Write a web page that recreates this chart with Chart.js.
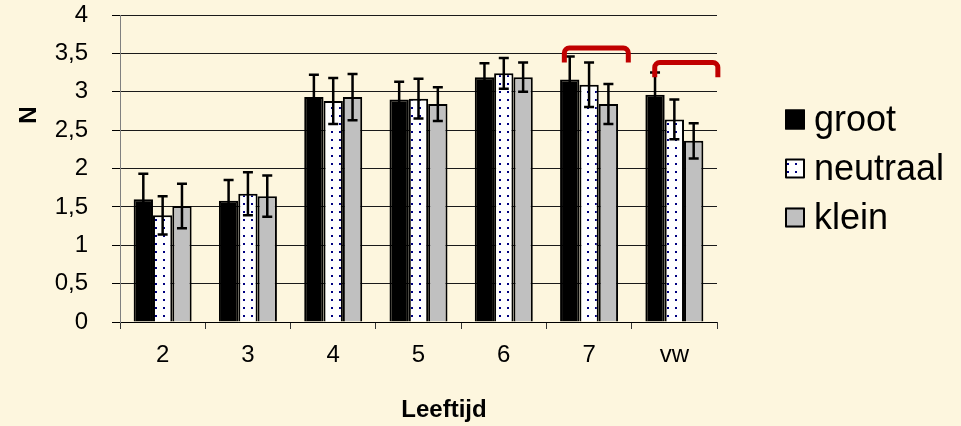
<!DOCTYPE html>
<html><head><meta charset="utf-8">
<script src="https://cdn.jsdelivr.net/npm/chart.js@4.4.1/dist/chart.umd.min.js"></script>
<style>html,body{margin:0;padding:0;background:#FDF6DE;overflow:hidden}#wrap{width:961px;height:426px;position:relative}</style>
</head><body><div id="wrap"><canvas id="c" width="961" height="426"></canvas></div>
<script>
const categories = ['2', '3', '4', '5', '6', '7', 'vw'];
const seriesNames = ['groot', 'neutraal', 'klein'];
const groot = [1.60, 1.58, 2.93, 2.90, 3.19, 3.16, 2.96];
const grootErr = [0.33, 0.27, 0.29, 0.23, 0.18, 0.30, 0.29];
const neutraal = [1.39, 1.67, 2.88, 2.91, 3.24, 3.09, 2.64];
const neutraalErr = [0.25, 0.28, 0.30, 0.26, 0.20, 0.29, 0.26];
const klein = [1.51, 1.64, 2.93, 2.84, 3.19, 2.84, 2.36];
const kleinErr = [0.29, 0.27, 0.30, 0.22, 0.19, 0.26, 0.23];
const yTickValues = [0, 0.5, 1, 1.5, 2, 2.5, 3, 3.5, 4];
const yTitle = 'N';
const xTitle = 'Leeftijd';
// significance brackets, in data units (category + offset in category widths, y values)
const bracketCategories = ['7', 'vw'];
const bracketFrom = [-0.29, -0.23];
const bracketTo = [0.46, 0.51];
const bracketTop = [3.57, 3.38];
const bracketLeg = [3.38, 3.19];

const FONT = "'Liberation Sans', Arial, sans-serif";
Chart.defaults.font.family = FONT;
Chart.defaults.color = '#000';

const canvas = document.getElementById('c');
const ctx0 = canvas.getContext('2d');
const tile = document.createElement('canvas');
tile.width = 8; tile.height = 8;
const tctx = tile.getContext('2d');
tctx.fillStyle = '#ffffff'; tctx.fillRect(0, 0, 8, 8);
tctx.fillStyle = '#000080'; tctx.fillRect(3, 3, 2, 2);
const dotPattern = ctx0.createPattern(tile, 'repeat');

const errs = [grootErr, neutraalErr, kleinErr];

const bgPlugin = {
  id: 'bg',
  beforeDraw(chart) {
    const c = chart.ctx;
    c.save(); c.fillStyle = '#FDF6DE'; c.fillRect(0, 0, chart.width, chart.height); c.restore();
  }
};

const errPlugin = {
  id: 'errbars',
  afterDatasetsDraw(chart) {
    const c = chart.ctx, ys = chart.scales.y;
    c.save();
    c.strokeStyle = '#000'; c.lineWidth = 2.5; c.lineCap = 'butt';
    chart.data.datasets.forEach((ds, i) => {
      const meta = chart.getDatasetMeta(i);
      meta.data.forEach((el, j) => {
        const v = ds.data[j], e = errs[i][j];
        const yt = ys.getPixelForValue(v + e), yb = ys.getPixelForValue(v - e);
        const x = el.x;
        c.beginPath();
        c.moveTo(x, yt); c.lineTo(x, yb);
        c.moveTo(x - 5, yt); c.lineTo(x + 5, yt);
        c.moveTo(x - 5, yb); c.lineTo(x + 5, yb);
        c.stroke();
      });
    });
    c.restore();
  }
};

const annoPlugin = {
  id: 'anno',
  afterDraw(chart) {
    const c = chart.ctx, xs = chart.scales.x, ys = chart.scales.y, area = chart.chartArea;
    const catW = xs.getPixelForValue(1) - xs.getPixelForValue(0);
    c.save();
    // final x tick at right end
    c.strokeStyle = '#333'; c.lineWidth = 1;
    c.beginPath();
    const rx = Math.round(area.right) + 0.5;
    c.moveTo(rx, area.bottom); c.lineTo(rx, area.bottom + 7); c.stroke();
    // brackets
    c.strokeStyle = '#C00000'; c.lineWidth = 5; c.lineJoin = 'round';
    bracketCategories.forEach((cat, k) => {
      const cx = xs.getPixelForValue(categories.indexOf(cat));
      const x1 = cx + bracketFrom[k] * catW, x2 = cx + bracketTo[k] * catW;
      const yT = ys.getPixelForValue(bracketTop[k]), yL = ys.getPixelForValue(bracketLeg[k]);
      const r = 5;
      c.beginPath();
      c.moveTo(x1, yL);
      c.lineTo(x1, yT + r);
      c.arcTo(x1, yT, x1 + r, yT, r);
      c.lineTo(x2 - r, yT);
      c.arcTo(x2, yT, x2, yT + r, r);
      c.lineTo(x2, yL);
      c.stroke();
    });
    // axis titles
    c.fillStyle = '#000';
    c.font = 'bold 24px ' + FONT;
    c.textAlign = 'center'; c.textBaseline = 'middle';
    c.fillText(xTitle, area.left + 324, area.bottom + 88);
    c.save();
    c.translate(area.left - 91, area.top + 100);
    c.rotate(-Math.PI / 2);
    c.fillText(yTitle, 0, 0);
    c.restore();
    // legend
    const lx = area.right + 68, cy = (area.top + area.bottom) / 2;
    c.font = '36px ' + FONT;
    c.textAlign = 'left';
    chart.data.datasets.forEach((ds, i) => {
      const y = cy + (i - 1) * 49;
      c.fillStyle = ds.backgroundColor;
      c.fillRect(lx, y - 10, 20, 20);
      c.strokeStyle = '#000'; c.lineWidth = 2;
      c.strokeRect(lx + 1, y - 9, 18, 18);
      c.fillStyle = '#000';
      c.fillText(ds.label, lx + 29, y + 2);
    });
    c.restore();
  }
};

new Chart(canvas, {
  type: 'bar',
  data: {
    labels: categories,
    datasets: [
      { label: seriesNames[0], data: groot, backgroundColor: '#000000', borderColor: '#000', borderWidth: 2 },
      { label: seriesNames[1], data: neutraal, backgroundColor: dotPattern, borderColor: '#000', borderWidth: 2 },
      { label: seriesNames[2], data: klein, backgroundColor: '#C0C0C0', borderColor: '#000', borderWidth: 2 }
    ]
  },
  options: {
    responsive: false,
    animation: false,
    devicePixelRatio: 1,
    layout: { padding: { top: 15, right: 244, bottom: 0, left: 0 } },
    datasets: { bar: { categoryPercentage: 0.68, barPercentage: 1.0, borderSkipped: 'bottom' } },
    plugins: { legend: { display: false }, tooltip: { enabled: false } },
    scales: {
      x: {
        offset: true,
        grid: { display: true, drawOnChartArea: false, drawTicks: true, tickLength: 7, offset: true, color: '#333', tickColor: '#333' },
        border: { display: true, color: '#000', width: 1 },
        ticks: { font: { size: 24 }, padding: 12, color: '#000' },
        afterFit(s) { s.height = 104; s.paddingLeft = 0; s.paddingRight = 0; }
      },
      y: {
        min: 0, max: 4,
        afterBuildTicks(s) { s.ticks = yTickValues.map(v => ({ value: v })); },
        grid: { color: '#1a1a1a', lineWidth: 1, tickLength: 8, tickColor: '#000', drawTicks: true },
        border: { display: true, color: '#808080', width: 1 },
        ticks: { font: { size: 24 }, padding: 24, color: '#000', callback: v => String(v).replace('.', ',') },
        afterFit(s) { s.width = 120; s.paddingTop = 0; s.paddingBottom = 0; }
      }
    }
  },
  plugins: [bgPlugin, errPlugin, annoPlugin]
});
</script></body></html>
